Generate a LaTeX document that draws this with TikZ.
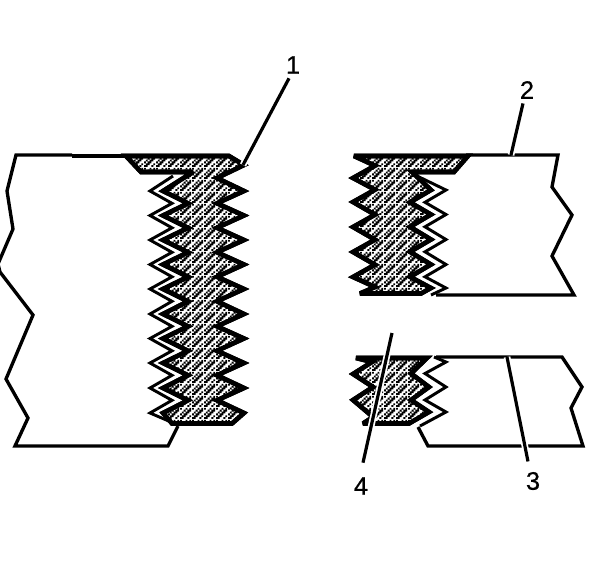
\documentclass[tikz,border=0pt]{standalone}
\usepackage{fontspec}
\setmainfont{Liberation Sans}
\newfontfamily\calloutfont[FakeBold=0.7]{Liberation Sans}
\usetikzlibrary{patterns,positioning}
\pgfdeclarepatternformonly{mazedots}{\pgfqpoint{0pt}{0pt}}{\pgfqpoint{9pt}{9pt}}{\pgfqpoint{9pt}{9pt}}{
    \foreach \cx/\cy in {0/0,1/0,4/0, 1/1,2/1,5/1, 0/2,2/2,3/2, 1/3,3/3,4/3, 2/4,4/4,5/4, 0/5,3/5,5/5}{
        \pgfpathrectangle{\pgfpoint{\cx*1.5pt}{\cy*1.5pt}}{\pgfqpoint{1.5pt}{1.5pt}}
    }
    \pgfusepath{fill}
}
\begin{document}
\begin{tikzpicture}[
    x=0.75pt, y=-0.75pt,
    outline/.style={draw=black, line width=2.5pt, line join=miter},
    threadline/.style={draw=black, line width=2.2pt, line join=miter},
    stipple/.style={draw=black, line width=3.4pt, line join=miter, miter limit=3, fill=white,
        postaction={pattern=mazedots, pattern color=black},
        postaction={draw=black, line width=3.4pt}},
    leader/.style={draw=black, line width=2.4pt, preaction={draw=white, line width=5pt}},
    callout/.style={font=\calloutfont\fontsize{19}{19}\selectfont, inner sep=1pt}
]
\useasboundingbox (0,0) rectangle (608,562);
% LEFT: bolt through the plate
\draw[outline] (72,155) -- (16,155) -- (7,191) -- (13,229) -- (-2,264) -- (0,272) -- (33,315)
    -- (6,379) -- (28,418) -- (15,446) -- (168,446) -- (178,426);
\draw[outline] (72,156) -- (130,156);
\draw[threadline] (173,176) \foreach \y in {191,215.5,240,264.5,289,314,338.5,363,388} {
    -- (150,\y) -- (172,\y+12.3)} -- (150,413) -- (178,425);
\path[stipple] (126,156) -- (229,156) -- (244,165) -- (217,178)
    \foreach \y in {191,215.5,240,264.5,289,314,338.5,363,388} {-- (244,\y) -- (217,\y+12.3)}
    -- (244,413) -- (232,423.5) -- (172,423.5) -- (163,413)
    \foreach \y in {388,363,338.5,314,289,264.5,240,215.5,191} {-- (188,\y+12.3) -- (163,\y)}
    -- (193,172) -- (141,172) -- cycle;
\coordinate (tip1) at (243,165);
% UPPER RIGHT: bolt stub in the top plate
\draw[outline] (466,155) -- (558,155) -- (552,187) -- (572,215) -- (552,256) -- (574,295) -- (436,295);
\draw[threadline] (415,175) \foreach \y in {190,214.5,239.5,264.5} {
    -- (446,\y) -- (425,\y+12.3)} -- (446,288) -- (431,295);
\path[stipple] (354,156) -- (468,156) -- (454,172) -- (412,172)
    \foreach \y in {190,214.5,239.5,264.5} {-- (431,\y) -- (410,\y+12.3)}
    -- (431,288) -- (421,293.5) -- (360,293.5) -- (375,287)
    \foreach \y in {277,252,227,202,178} {-- (353,\y) -- (375,\y-12.3)} -- cycle;
\coordinate (tip2) at (511,155);
% LOWER RIGHT: bolt stub in the bottom plate
\draw[outline] (436,357) -- (562,357) -- (582,387) -- (571,408) -- (583,446) -- (428,446) -- (418,427);
\draw[threadline] (434,357) -- (446,362) -- (425,373.5) -- (446,387) -- (425,400) -- (446,412) -- (420,426);
\path[stipple] (356,358) -- (427,358) -- (411,373.5) -- (429,387) -- (411,400) -- (429,412) -- (409,423.5)
    -- (363,423.5) -- (373,417) -- (353,400) -- (373,387) -- (353,374) -- (372,362) -- cycle;
\coordinate (tip3) at (507,357);
\coordinate (tip4) at (392,333);
% Callouts
\node[callout] (lab1) at (293,65) {1};
\node[callout] (lab2) at (527,90) {2};
\node[callout] (lab3) at (533,481) {3};
\node[callout] (lab4) at (361,486) {4};
\draw[leader] (lab1.south) ++(-4,3) -- (tip1);
\draw[leader] (lab2.south) ++(-4,3) -- (tip2);
\draw[leader] (lab3.north) ++(-5,-9) -- (tip3);
\draw[leader] (lab4.north) ++(2,-13) -- (tip4);
\end{tikzpicture}
\end{document}
